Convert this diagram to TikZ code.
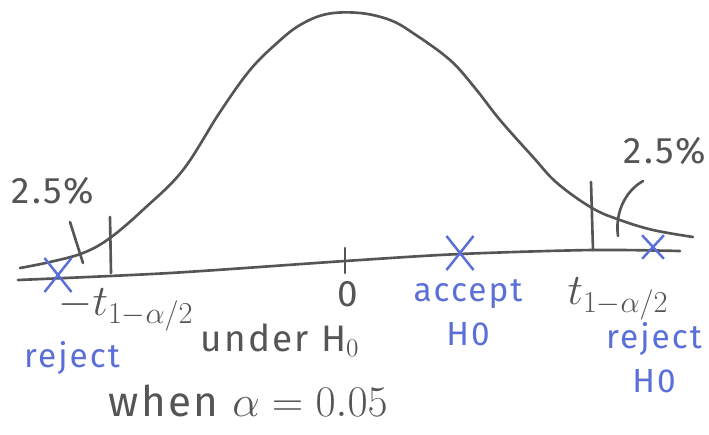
\documentclass[tikz,border=0pt]{standalone}
\usepackage{fontspec}
\setmainfont{Fira Sans}
\newfontfamily\hand{Fira Sans}[LetterSpace=6]
\usetikzlibrary{shapes.misc}
\definecolor{pencil}{HTML}{555555}
\definecolor{inkblue}{HTML}{5B6FD8}
\tikzset{
  pen/.style      = {draw=pencil, line width=1.5pt, line cap=round, line join=round},
  graylbl/.style  = {font=\hand\fontsize{21}{23}\selectfont\color{pencil}, inner sep=0pt, align=center},
  bluelbl/.style  = {font=\hand\fontsize{19}{25}\selectfont\color{inkblue}, inner sep=0pt, align=center},
  mathlbl/.style  = {font=\fontsize{23}{25}\selectfont\color{pencil}, inner sep=0pt},
  bluecross/.style = {cross out, draw=inkblue, line width=1.4pt, minimum width=14pt, minimum height=18pt, inner sep=0pt},
}
\begin{document}
\begin{tikzpicture}[x=0.02cm, y=-0.02cm]
\useasboundingbox[fill=white] (0,0) rectangle (709,434);
% density curve
\draw[pen] plot[smooth, tension=0.6] coordinates {(20,268) (50,262) (83,253) (110,238) (145,208) (183,170) (220,112) (250,70) (277,43) (300,25) (327,14) (360,13) (390,20) (413,33) (450,60) (475,88) (500,120) (533,157) (557,183) (592,208) (620,220) (653,230) (693,237)};
% axis
\draw[pen] plot[smooth, tension=0.5] coordinates {(18,280) (170,273) (345,261) (460,254) (592,250) (680,251)};

% left cut-off
\coordinate (tickLtop) at (110,217);
\coordinate (tickLbot) at (111,273);
\draw[pen] (tickLtop) -- (tickLbot);
\coordinate (slashLtop) at (70,222);
\coordinate (slashLbot) at (83,263);
\draw[pen] (slashLtop) -- (slashLbot);

% zero tick
\coordinate (tickZtop) at (345,248);
\coordinate (tickZbot) at (345,273);
\draw[pen] (tickZtop) -- (tickZbot);

% right cut-off
\coordinate (tickRtop) at (591,182);
\coordinate (tickRbot) at (593,250);
\draw[pen] (tickRtop) -- (tickRbot);
\coordinate (archRtop) at (643,181);
\coordinate (archRbot) at (618,236);
\draw[pen] (archRtop) .. controls (624,192) and (615,214) .. (archRbot);

% crosses
\node[bluecross] (xLeft)  at (58,275)  {};
\node[bluecross] (xMid)   at (460,253) {};
\node[bluecross, minimum width=11pt, minimum height=12pt] (xRight) at (653,247) {};

% labels
\node[graylbl] (pctLeft)  at (53,191)  {2.5\%};
\node[graylbl] (pctRight) at (665,151) {2.5\%};
\node[mathlbl] (tNeg)     at (126,310) {$-t_{1-\alpha/2}$};
\node[mathlbl] (tPos)     at (618,299) {$t_{1-\alpha/2}$};
\node[graylbl] (zero)     at (348,294) {0};
\node[graylbl] (underH)   at (280,340) {under H$_0$};
\node[graylbl, font=\hand\fontsize{24}{26}\selectfont\color{pencil}] (whenA) at (248,401) {when $\alpha = 0.05$};
\node[bluelbl] (rejL)     at (72,358)  {reject};
\node[bluelbl] (accH)     at (468,313) {accept\\H0};
\node[bluelbl] (rejR)     at (654,358) {reject\\H0};
\end{tikzpicture}
\end{document}
